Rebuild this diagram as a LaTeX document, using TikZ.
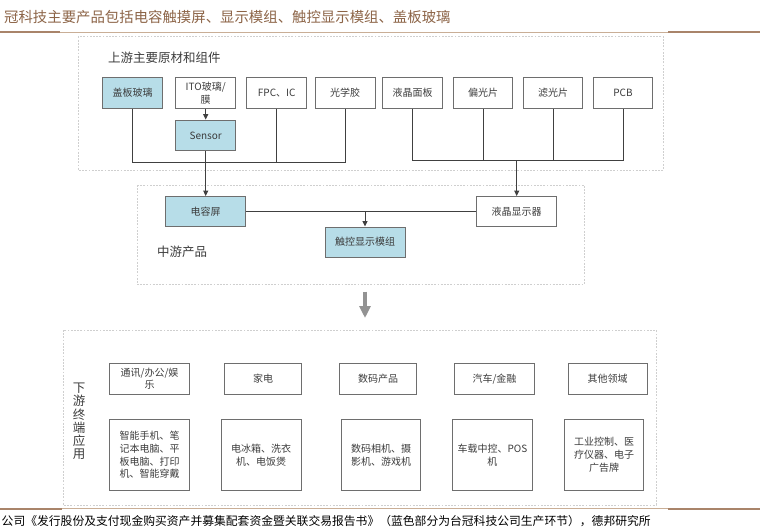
\documentclass[tikz,border=0pt]{standalone}
\usepackage{fontspec}
\setmainfont{Liberation Serif}
\newfontfamily\cjk{Noto Sans CJK SC}
\usetikzlibrary{arrows.meta}
\definecolor{boxblue}{HTML}{B7DDE8}
\definecolor{boxgray}{HTML}{6E6E6E}
\definecolor{linegray}{HTML}{404040}
\definecolor{dashgray}{HTML}{CFCFCF}
\definecolor{titlebrown}{HTML}{8C6447}
\definecolor{rulebrown}{HTML}{A9846A}
\definecolor{rulelight}{HTML}{C9AE96}
\definecolor{txt}{HTML}{3C3C3C}
\tikzset{
  abox/.style={draw=boxgray, line width=0.9pt, inner sep=0pt, align=center,
    text=txt, font=\cjk\fontsize{10}{12.8}\selectfont},
  bbox/.style={abox, fill=boxblue},
  conn/.style={draw=linegray, line width=1pt},
  arr/.style={conn, -{Triangle[width=5pt,length=5.5pt]}},
  dbox/.style={draw=dashgray, line width=0.8pt, dash pattern=on 1.8pt off 1.4pt},
  lbl/.style={inner sep=0pt, text=txt, font=\cjk\fontsize{12.5}{13.6}\selectfont},
  bigarrow/.style={draw=gray!85, line width=3.4pt, -{Triangle[width=11pt,length=12pt]}},
}
\begin{document}
\begin{tikzpicture}[x=1pt,y=-1pt]
\useasboundingbox (0,0) rectangle (760,531);
% header / footer rules
\draw[rulelight, line width=0.8pt] (0,32) -- (760,32);
\draw[rulebrown, line width=2pt] (0,32) -- (60,32);
\draw[rulebrown, line width=2pt] (668,32) -- (760,32);
\draw[rulelight, line width=0.8pt] (0,508.5) -- (760,508.5);
\draw[rulebrown, line width=2pt] (0,508.5) -- (62,508.5);
\draw[rulebrown, line width=2pt] (668,508.5) -- (760,508.5);
\node[anchor=west, inner sep=0pt, text=titlebrown, font=\cjk\fontsize{14.4}{16}\selectfont] (title) at (4,17) {冠科技主要产品包括电容触摸屏、显示模组、触控显示模组、盖板玻璃};
\node[anchor=west, inner sep=0pt, text=black, font=\cjk\fontsize{11.8}{13}\selectfont] (src) at (1.5,521) {公司《发行股份及支付现金购买资产并募集配套资金暨关联交易报告书》（蓝色部分为台冠科技公司生产环节），德邦研究所};

% dashed group frames
\draw[dbox] (78,36.5) rectangle (663.3,170);
\draw[dbox] (137,185) rectangle (584,284.5);
\draw[dbox] (63,330) rectangle (656,505);

% upstream
\node[lbl, anchor=west] (upT) at (108,57.7) {上游主要原材和组件};
\node[bbox, minimum width=59.6pt, minimum height=30.6pt] (gbbl) at (132.5,93) {盖板玻璃};
\node[abox, minimum width=60pt, minimum height=30.6pt] (ito) at (205.7,93) {ITO玻璃/\\膜};
\node[abox, minimum width=60pt, minimum height=30.6pt] (fpc) at (276.7,93) {FPC、IC};
\node[abox, minimum width=60pt, minimum height=30.6pt] (gxj) at (345,93) {光学胶};
\node[abox, minimum width=60pt, minimum height=30.6pt] (yjmb) at (412.7,93) {液晶面板};
\node[abox, minimum width=59.4pt, minimum height=30.6pt] (pgp) at (483,93) {偏光片};
\node[abox, minimum width=59.4pt, minimum height=30.6pt] (lgp) at (553,93) {滤光片};
\node[abox, minimum width=59.4pt, minimum height=30.6pt] (pcb) at (623,93) {PCB};
\node[bbox, minimum width=60pt, minimum height=30.7pt] (sensor) at (205.7,135.4) {Sensor};

% midstream
\node[bbox, minimum width=80pt, minimum height=30pt] (drp) at (205.7,211.5) {电容屏};
\node[abox, minimum width=80pt, minimum height=30pt] (yjxs) at (516.7,211.5) {液晶显示器};
\node[bbox, minimum width=80pt, minimum height=30pt] (ckmz) at (365,242) {触控显示模组};
\node[lbl, anchor=west] (midT) at (157,251.7) {中游产品};

% connectors upstream left
\coordinate (jL) at (205.7,162.3);
\draw[conn] (gbbl.south) -- (gbbl.south |- jL) -- (gxj.south |- jL) -- (gxj.south);
\draw[conn] (fpc.south) -- (fpc.south |- jL);
\draw[arr] (ito.south) -- (sensor.north);
\draw[arr] (sensor.south) -- (drp.north);
% connectors upstream right
\coordinate (jR) at (516.7,160);
\draw[conn] (yjmb.south) -- (yjmb.south |- jR) -- (pcb.south |- jR) -- (pcb.south);
\draw[conn] (pgp.south) -- (pgp.south |- jR);
\draw[conn] (lgp.south) -- (lgp.south |- jR);
\draw[arr] (jR) -- (yjxs.north);
% midstream connectors
\draw[conn] (drp.east) -- (yjxs.west);
\coordinate (jM) at (365,211.5);
\draw[arr] (jM) -- (ckmz.north);

% big arrow
\coordinate (bigA) at (365,291.7);
\coordinate (bigB) at (365,318);
\draw[bigarrow] (bigA) -- (bigB);

% downstream
\node[lbl, align=center, font=\cjk\fontsize{12.5}{13.2}\selectfont] (downT) at (79,421.5) {下\\游\\终\\端\\应\\用};
\node[abox, minimum width=80pt, minimum height=30.7pt] (d1) at (149.5,378.7) {通讯/办公/娱\\乐};
\node[abox, minimum width=76.5pt, minimum height=30.7pt] (d2) at (263,378.7) {家电};
\node[abox, minimum width=76.7pt, minimum height=30.7pt] (d3) at (378.2,378.7) {数码产品};
\node[abox, minimum width=80pt, minimum height=30.7pt] (d4) at (494.5,378.7) {汽车/金融};
\node[abox, minimum width=79pt, minimum height=30.7pt] (d5) at (607.5,378.7) {其他领域};
\node[abox, minimum width=80pt, minimum height=71.7pt] (e1) at (149.5,454.9) {智能手机、笔\\记本电脑、平\\板电脑、打印\\机、智能穿戴};
\node[abox, minimum width=79.7pt, minimum height=71.7pt] (e2) at (261.2,454.9) {电冰箱、洗衣\\机、电饭煲};
\node[abox, minimum width=79pt, minimum height=71.7pt] (e3) at (381,454.9) {数码相机、摄\\影机、游戏机};
\node[abox, minimum width=79.8pt, minimum height=71.7pt] (e4) at (492.4,454.9) {车载中控、POS\\机};
\node[abox, minimum width=79.5pt, minimum height=71.7pt] (e5) at (604,454.9) {工业控制、医\\疗仪器、电子\\广告牌};
\end{tikzpicture}
\end{document}
